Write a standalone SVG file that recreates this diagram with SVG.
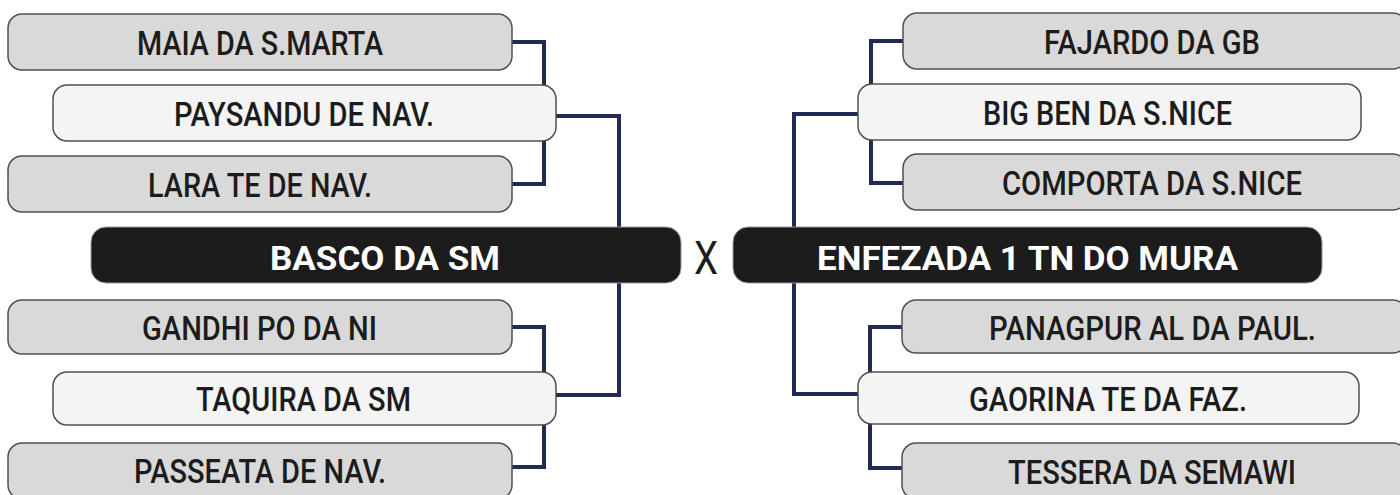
<svg xmlns="http://www.w3.org/2000/svg" width="1400" height="495" viewBox="0 0 1400 495">
<style>
.outer{fill:#d9d9d9;stroke:#505050;stroke-width:1.5}
.inner{fill:#f4f4f4;stroke:#505050;stroke-width:1.5}
.main{fill:#1c1c1c;stroke:#9a9a9a;stroke-width:1}
.t{font-family:Roboto,"Liberation Sans",sans-serif;font-weight:500;font-size:33px;fill:#1c1c1c;text-anchor:middle}
.tw{font-family:Roboto,"Liberation Sans",sans-serif;font-weight:700;font-size:33px;fill:#ffffff;text-anchor:middle}
.x{font-family:Roboto,"Liberation Sans",sans-serif;font-weight:400;font-size:46px;fill:#1c1c1c;text-anchor:middle}
.c{fill:none;stroke:#1f2b52;stroke-width:4}
</style>
<rect width="1400" height="495" fill="#ffffff"/>
<g id="connectors">
<path class="c" d="M512,42 H544 V184 H512"/>
<path class="c" d="M512,327 H544 V467 H512"/>
<path class="c" d="M556,116 H619 V395 H556"/>
<path class="c" d="M903,41 H871 V183 H903"/>
<path class="c" d="M902,327 H870 V468 H902"/>
<path class="c" d="M858,114 H794 V394 H858"/>
</g>
<g id="maia"><rect class="outer" x="8" y="14" width="504" height="56" rx="14"/><text class="t" x="260" y="55" textLength="246" lengthAdjust="spacingAndGlyphs">MAIA DA S.MARTA</text></g>
<g id="paysandu"><rect class="inner" x="53" y="85" width="503" height="56" rx="14"/><text class="t" x="304" y="126" textLength="260" lengthAdjust="spacingAndGlyphs">PAYSANDU DE NAV.</text></g>
<g id="lara"><rect class="outer" x="8" y="156" width="504" height="56" rx="14"/><text class="t" x="260" y="197" textLength="224" lengthAdjust="spacingAndGlyphs">LARA TE DE NAV.</text></g>
<g id="basco"><rect class="main" x="91" y="227" width="590" height="56" rx="15"/><text class="tw" x="385" y="270" textLength="230" lengthAdjust="spacingAndGlyphs">BASCO DA SM</text></g>
<g id="gandhi"><rect class="outer" x="8" y="300" width="504" height="54" rx="14"/><text class="t" x="259.5" y="340" textLength="235" lengthAdjust="spacingAndGlyphs">GANDHI PO DA NI</text></g>
<g id="taquira"><rect class="inner" x="53" y="372" width="503" height="53" rx="14"/><text class="t" x="303.5" y="411" textLength="215" lengthAdjust="spacingAndGlyphs">TAQUIRA DA SM</text></g>
<g id="passeata"><rect class="outer" x="8" y="443" width="504" height="56" rx="14"/><text class="t" x="260" y="483" textLength="252" lengthAdjust="spacingAndGlyphs">PASSEATA DE NAV.</text></g>
<g id="vs"><text class="x" x="706" y="274" textLength="24" lengthAdjust="spacingAndGlyphs">X</text></g>
<g id="fajardo"><rect class="outer" x="903" y="13" width="504" height="56" rx="14"/><text class="t" x="1152" y="54" textLength="216" lengthAdjust="spacingAndGlyphs">FAJARDO DA GB</text></g>
<g id="bigben"><rect class="inner" x="858" y="84" width="503" height="56" rx="14"/><text class="t" x="1107.5" y="125" textLength="249" lengthAdjust="spacingAndGlyphs">BIG BEN DA S.NICE</text></g>
<g id="comporta"><rect class="outer" x="903" y="154" width="504" height="56" rx="14"/><text class="t" x="1152" y="195" textLength="300" lengthAdjust="spacingAndGlyphs">COMPORTA DA S.NICE</text></g>
<g id="enfezada"><rect class="main" x="733" y="227" width="589" height="56" rx="15"/><text class="tw" x="1027.5" y="270" textLength="421" lengthAdjust="spacingAndGlyphs">ENFEZADA 1 TN DO MURA</text></g>
<g id="panagpur"><rect class="outer" x="902" y="300" width="505" height="53" rx="14"/><text class="t" x="1152.5" y="340" textLength="327" lengthAdjust="spacingAndGlyphs">PANAGPUR AL DA PAUL.</text></g>
<g id="gaorina"><rect class="inner" x="858" y="372" width="501" height="52" rx="14"/><text class="t" x="1108" y="411" textLength="278" lengthAdjust="spacingAndGlyphs">GAORINA TE DA FAZ.</text></g>
<g id="tessera"><rect class="outer" x="902" y="443" width="505" height="56" rx="14"/><text class="t" x="1152" y="484" textLength="288" lengthAdjust="spacingAndGlyphs">TESSERA DA SEMAWI</text></g>
</svg>
